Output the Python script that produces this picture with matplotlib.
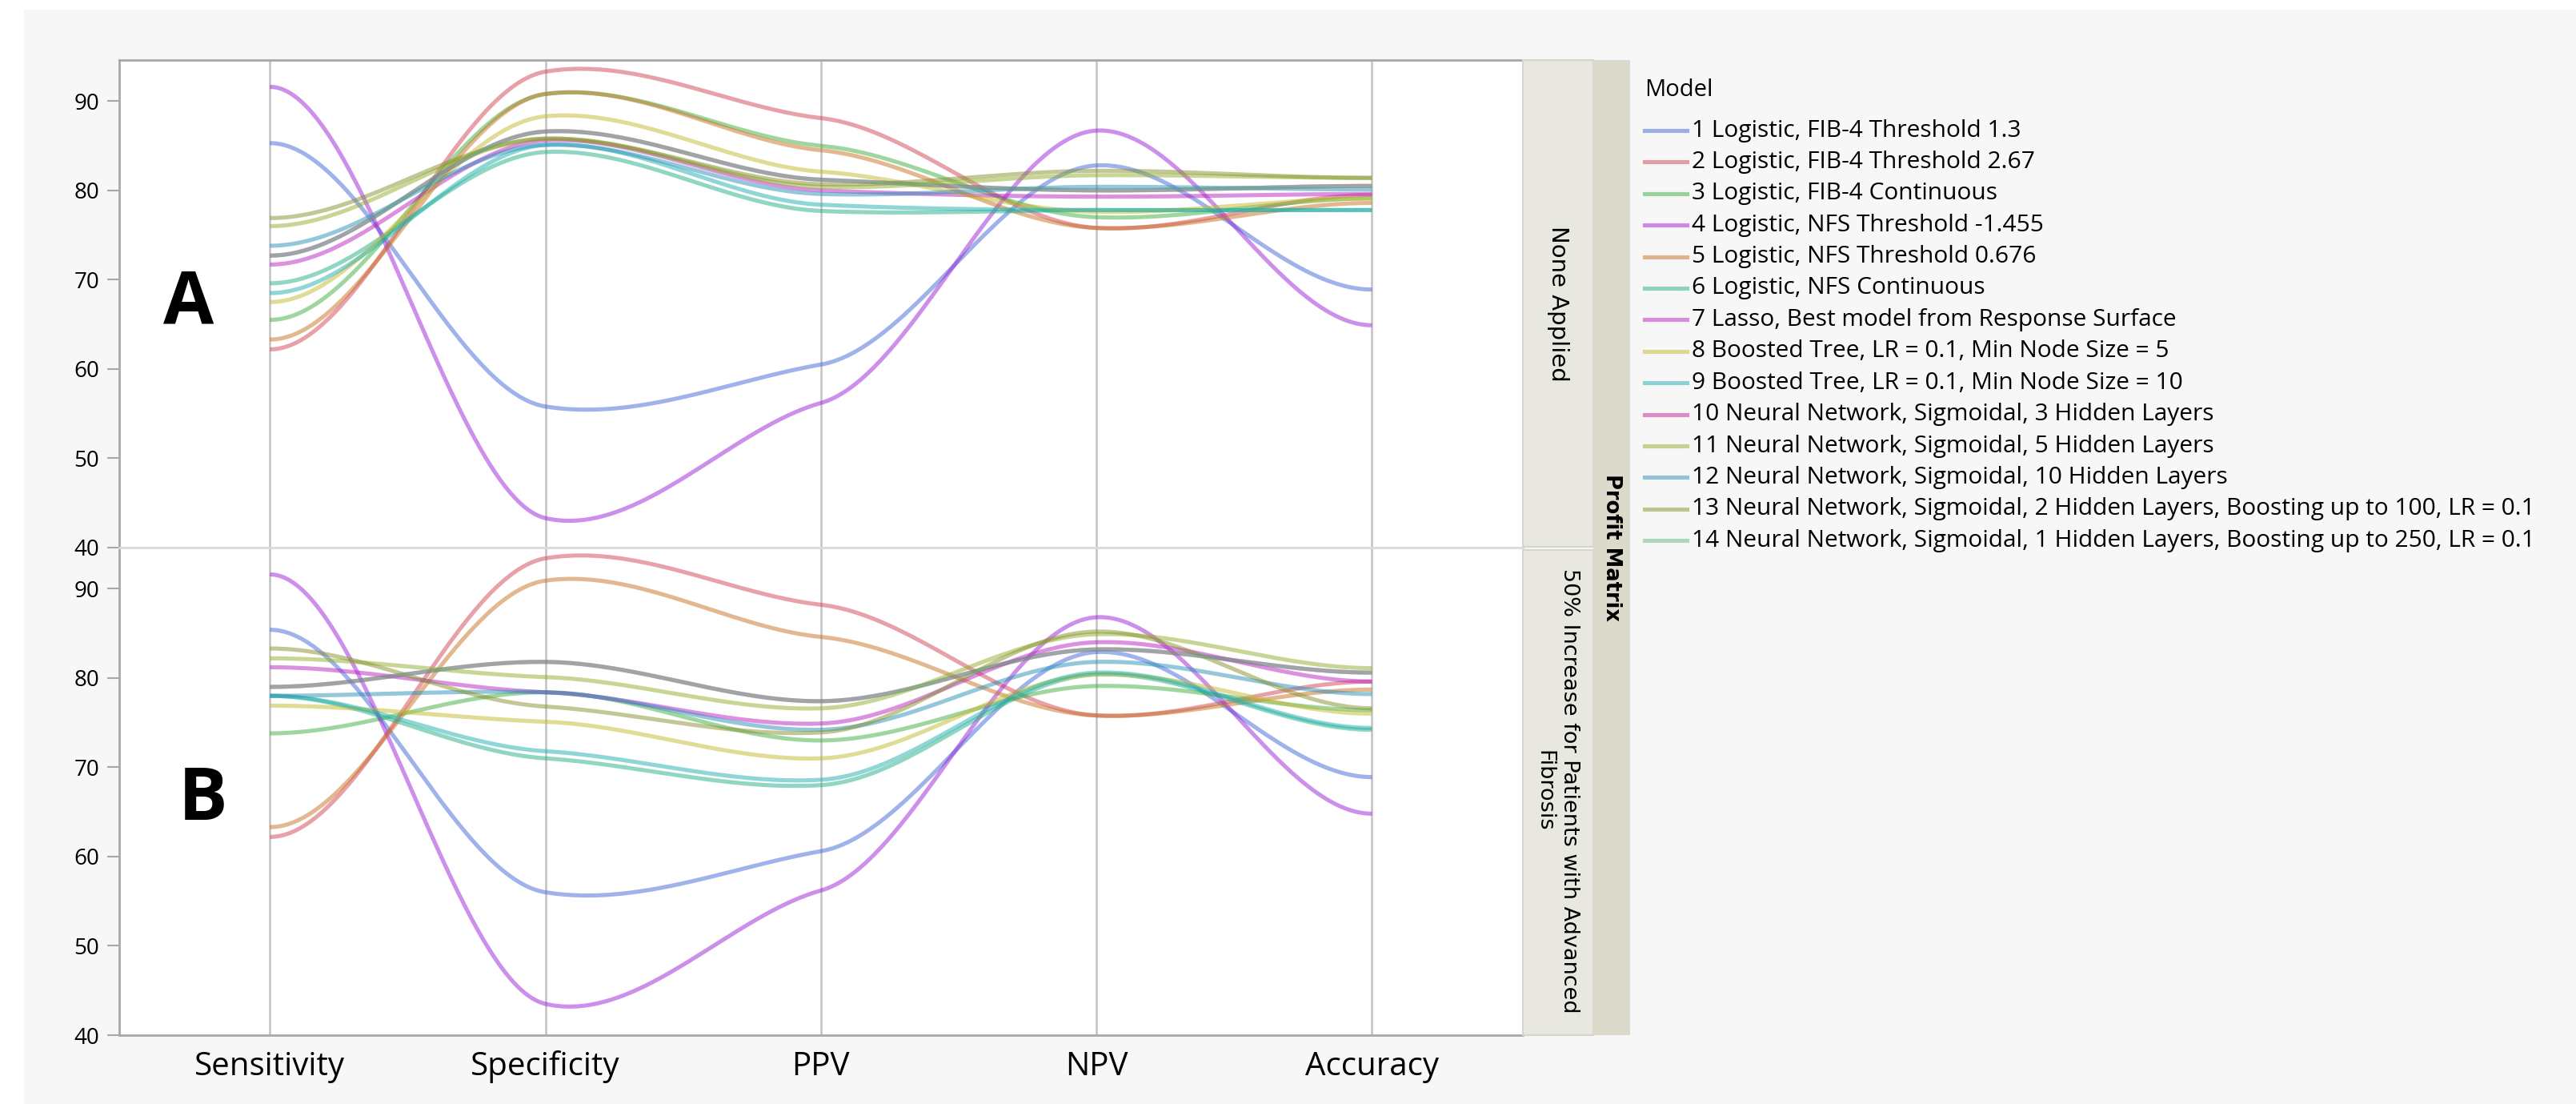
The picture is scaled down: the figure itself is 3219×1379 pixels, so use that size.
import numpy as np
import matplotlib.pyplot as plt
from matplotlib.lines import Line2D
from matplotlib.patches import Rectangle

metrics = ['Sensitivity', 'Specificity', 'PPV', 'NPV', 'Accuracy']
models = ['1 Logistic, FIB-4 Threshold 1.3',
          '2 Logistic, FIB-4 Threshold 2.67',
          '3 Logistic, FIB-4 Continuous',
          '4 Logistic, NFS Threshold -1.455',
          '5 Logistic, NFS Threshold 0.676',
          '6 Logistic, NFS Continuous',
          '7 Lasso, Best model from Response Surface',
          '8 Boosted Tree, LR = 0.1, Min Node Size = 5',
          '9 Boosted Tree, LR = 0.1, Min Node Size = 10',
          '10 Neural Network, Sigmoidal, 3 Hidden Layers',
          '11 Neural Network, Sigmoidal, 5 Hidden Layers',
          '12 Neural Network, Sigmoidal, 10 Hidden Layers',
          '13 Neural Network, Sigmoidal, 2 Hidden Layers, Boosting up to 100, LR = 0.1',
          '14 Neural Network, Sigmoidal, 1 Hidden Layers, Boosting up to 250, LR = 0.1']

# Profit matrix: None Applied
none_applied = [
    [85.3, 55.8, 60.5, 82.8, 68.9],
    [62.2, 93.3, 88.1, 75.8, 79.5],
    [65.5, 90.8, 85.0, 77.0, 79.1],
    [91.6, 43.3, 56.2, 86.7, 64.9],
    [63.3, 90.8, 84.5, 75.8, 78.6],
    [69.6, 84.3, 77.7, 77.8, 77.8],
    [71.7, 85.6, 80.0, 79.3, 79.6],
    [67.5, 88.3, 82.1, 77.6, 79.1],
    [68.5, 85.1, 78.4, 77.8, 77.8],
    [72.7, 86.6, 81.2, 80.0, 80.5],
    [76.0, 85.8, 80.4, 81.7, 81.4],
    [73.8, 85.1, 79.6, 80.4, 80.1],
    [76.9, 85.8, 80.7, 82.2, 81.4],
    [72.7, 86.6, 81.2, 80.0, 80.5],
]

# Profit matrix: 50% increase for patients with advanced fibrosis
increase_50 = [
    [85.4, 56.0, 60.6, 82.9, 68.9],
    [62.2, 93.4, 88.2, 75.8, 79.6],
    [73.8, 78.4, 73.0, 79.1, 76.4],
    [91.6, 43.5, 56.2, 86.8, 64.8],
    [63.3, 90.9, 84.6, 75.8, 78.7],
    [78.0, 71.0, 68.0, 80.4, 74.2],
    [81.2, 78.4, 74.9, 84.0, 79.6],
    [76.9, 75.1, 71.0, 80.4, 76.0],
    [78.0, 71.8, 68.6, 80.6, 74.4],
    [79.0, 81.8, 77.4, 83.2, 80.6],
    [82.2, 80.1, 76.6, 84.9, 81.1],
    [78.0, 78.4, 74.2, 81.8, 78.2],
    [83.3, 76.8, 73.9, 85.2, 76.6],
    [79.0, 81.8, 77.4, 83.2, 80.6],
]

colors = ['#4169d7', '#d14555', '#41af41', '#9b23d7', '#c97323', '#23af87',
          '#b923c3', '#c3b92d', '#23afaf', '#c32391', '#91af2d', '#2d91b9',
          '#87912d', '#5fb987']

W, H = 3219, 1379
BG = '#f7f7f7'
FONT = 'Open Sans'


def fx(px):
    return px / W


def fy(py):
    return 1 - py / H


def smooth(vals, k=0.4, n=80):
    y = np.asarray(vals, float)
    m = np.zeros_like(y)
    m[1:-1] = k * (y[2:] - y[:-2]) / 2
    xs, ys = [], []
    t = np.linspace(0, 1, n)
    h00 = 2*t**3 - 3*t**2 + 1
    h10 = t**3 - 2*t**2 + t
    h01 = -2*t**3 + 3*t**2
    h11 = t**3 - t**2
    for i in range(len(y) - 1):
        xs.append(i + t)
        ys.append(h00*y[i] + h10*m[i] + h01*y[i+1] + h11*m[i+1])
    return np.concatenate(xs), np.concatenate(ys)


fig = plt.figure(figsize=(W / 100, H / 100), dpi=100, facecolor='white')
fig.add_artist(Rectangle((fx(30), 0), 1, fy(12), transform=fig.transFigure,
                         facecolor=BG, edgecolor='none', zorder=-10))

left, right = 149, 1903
panels = [(none_applied, 75, 684), (increase_50, 684, 1293)]
axes = []
for p, (data, top, bot) in enumerate(panels):
    ax = fig.add_axes([fx(left), fy(bot), fx(right - left), (bot - top) / H])
    ax.set_facecolor('white')
    for j in range(len(metrics)):
        ax.axvline(j, color='#c2c2c2', lw=1.8, zorder=0)
    for vals, c in zip(data, colors):
        xs, ys = smooth(vals)
        ax.plot(xs, ys, color=c, alpha=0.5, lw=3.7, solid_capstyle='butt')
    ax.set_xlim(-0.547, 4.548)
    ax.set_ylim(40, 94.6)
    ax.set_yticks([40, 50, 60, 70, 80, 90])
    ax.tick_params(axis='y', length=11, width=1.5, color='#a8a8a8', pad=7,
                   labelsize=20)
    ax.set_xticks(range(len(metrics)))
    if p == 0:
        ax.tick_params(axis='x', length=0, labelbottom=False)
        ax.spines['bottom'].set_color('#dadada')
        ax.spines['top'].set_color('#a8a8a8')
    else:
        ax.set_xticklabels(metrics, fontsize=29, fontfamily=FONT)
        ax.tick_params(axis='x', length=0, pad=14)
        ax.spines['top'].set_color('#dadada')
        ax.spines['bottom'].set_color('#a8a8a8')
    for lab in ax.get_yticklabels():
        lab.set_fontfamily(FONT)
    ax.spines['left'].set_color('#a8a8a8')
    ax.spines['right'].set_visible(False)
    for s in ax.spines.values():
        s.set_linewidth(2)
    axes.append(ax)

# strips
fig.add_artist(Rectangle((fx(1903), fy(683)), fx(88), (683 - 75) / H,
                         transform=fig.transFigure, facecolor='#e8e8e1',
                         edgecolor='#d6d6cc', lw=1.5))
fig.add_artist(Rectangle((fx(1903), fy(1293)), fx(88), (1293 - 687) / H,
                         transform=fig.transFigure, facecolor='#e8e8e1',
                         edgecolor='#d6d6cc', lw=1.5))
fig.add_artist(Rectangle((fx(1991), fy(1293)), fx(46), (1293 - 75) / H,
                         transform=fig.transFigure, facecolor='#dbdacb',
                         edgecolor='none'))
fig.text(fx(1947), fy(379), 'None Applied', rotation=-90, ha='center',
         va='center', fontsize=21, family='DejaVu Sans')
fig.text(fx(1945), fy(988), '50% Increase for Patients with Advanced\nFibrosis',
         rotation=-90, ha='center', va='center', fontsize=19.5,
         family='DejaVu Sans', multialignment='center', linespacing=1.25)
fig.text(fx(2014), fy(684), 'Profit Matrix', rotation=-90, ha='center',
         va='center', fontsize=18.5, family='DejaVu Sans', weight='bold')

# panel letters
fig.text(fx(236), fy(380), 'A', ha='center', va='center', fontsize=66,
         weight='bold', family=FONT)
fig.text(fx(254), fy(1000), 'B', ha='center', va='center', fontsize=66,
         weight='bold', family=FONT)

# legend
fig.text(fx(2055), fy(112), 'Model', ha='left', va='center', fontsize=21,
         family=FONT)
for i, (lab, c) in enumerate(zip(models, colors)):
    yy = 163 + i * 39.4
    fig.add_artist(Line2D([fx(2055), fx(2108)], [fy(yy), fy(yy)], color=c,
                          alpha=0.5, lw=3.7, transform=fig.transFigure))
    fig.text(fx(2114), fy(yy), lab, ha='left', va='center', fontsize=21.5,
             family=FONT)

fig.savefig('out.png', dpi=100, facecolor='white')
